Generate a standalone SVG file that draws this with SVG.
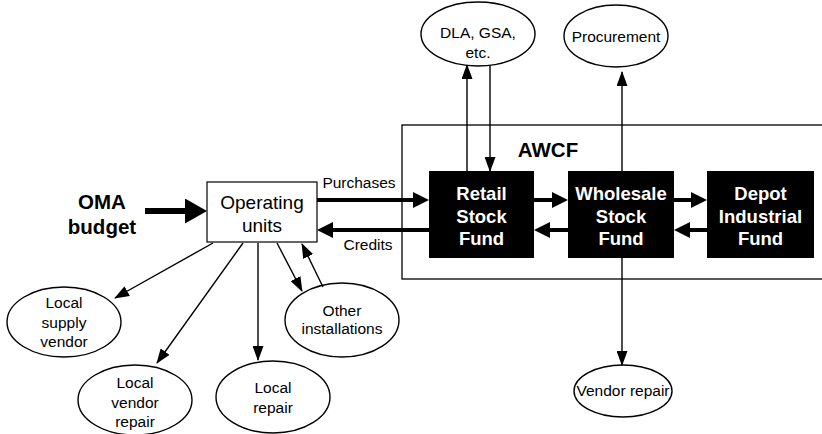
<svg xmlns="http://www.w3.org/2000/svg" width="822" height="434" viewBox="0 0 822 434">
<defs>
<style>
text{font-family:"Liberation Sans",Arial,sans-serif;fill:#000;text-anchor:middle}
.lbl{font-size:15.5px}
.bw{font-size:18.5px;font-weight:bold;fill:#fff}
.big{font-size:20.5px;font-weight:bold}
.ell{fill:#fff;stroke:#000;stroke-width:1.4}
.blk{fill:#000}
.thin{stroke:#000;stroke-width:1.4;fill:none;marker-end:url(#ah)}
.thick{stroke:#000;stroke-width:4;fill:none;marker-end:url(#ahT)}
</style>
<marker id="ah" markerUnits="userSpaceOnUse" markerWidth="15" markerHeight="11" refX="14" refY="5.5" orient="auto">
<path d="M0,0 L15,5.5 L0,11 z" fill="#000"/>
</marker>
<marker id="ahT" markerUnits="userSpaceOnUse" markerWidth="16" markerHeight="16" refX="3" refY="8" orient="auto">
<path d="M0,0 L16,8 L0,16 z" fill="#000"/>
</marker>
<marker id="ahB" markerUnits="userSpaceOnUse" markerWidth="22" markerHeight="25" refX="3" refY="12.5" orient="auto">
<path d="M0,0 L22,12.5 L0,25 z" fill="#000"/>
</marker>
</defs>
<rect width="822" height="434" fill="#fff"/>

<g id="awcf">
<rect x="402" y="125" width="430" height="154" fill="none" stroke="#000" stroke-width="1.3"/>
<text class="big" x="548" y="157" font-size="20px">AWCF</text>
</g>

<g id="oma">
<text class="big" x="102" y="209">OMA</text>
<text class="big" x="102" y="234">budget</text>
</g>

<g id="operating-units">
<rect x="207" y="182" width="110" height="60" fill="#fff" stroke="#000" stroke-width="1.2"/>
<text x="262" y="209" font-size="19px">Operating</text>
<text x="262" y="232" font-size="19px">units</text>
</g>

<g id="retail">
<rect class="blk" x="429" y="171" width="105" height="87"/>
<text class="bw" x="481.5" y="200">Retail</text>
<text class="bw" x="481.5" y="223">Stock</text>
<text class="bw" x="481.5" y="245">Fund</text>
</g>

<g id="wholesale">
<rect class="blk" x="568" y="171" width="106" height="87"/>
<text class="bw" x="621" y="200">Wholesale</text>
<text class="bw" x="621" y="223">Stock</text>
<text class="bw" x="621" y="245">Fund</text>
</g>

<g id="depot">
<rect class="blk" x="707" y="171" width="107" height="87"/>
<text class="bw" x="760.5" y="200">Depot</text>
<text class="bw" x="760.5" y="223">Industrial</text>
<text class="bw" x="760.5" y="245">Fund</text>
</g>

<g id="dla">
<ellipse class="ell" cx="478" cy="34" rx="57" ry="32"/>
<text class="lbl" x="478" y="38">DLA, GSA,</text>
<text class="lbl" x="478" y="58">etc.</text>
</g>

<g id="procurement">
<ellipse class="ell" cx="616" cy="36" rx="52" ry="31"/>
<text class="lbl" x="616" y="42">Procurement</text>
</g>

<g id="vendor-repair">
<ellipse class="ell" cx="623" cy="391" rx="49" ry="26"/>
<text class="lbl" x="623" y="396">Vendor repair</text>
</g>

<g id="local-supply-vendor">
<ellipse class="ell" cx="64" cy="322" rx="57" ry="35"/>
<text class="lbl" x="64" y="308">Local</text>
<text class="lbl" x="64" y="328">supply</text>
<text class="lbl" x="64" y="347">vendor</text>
</g>

<g id="local-vendor-repair">
<ellipse class="ell" cx="135" cy="400" rx="57" ry="35"/>
<text class="lbl" x="135" y="388">Local</text>
<text class="lbl" x="135" y="408">vendor</text>
<text class="lbl" x="135" y="427">repair</text>
</g>

<g id="local-repair">
<ellipse class="ell" cx="273" cy="397" rx="57" ry="36"/>
<text class="lbl" x="273" y="393">Local</text>
<text class="lbl" x="273" y="413">repair</text>
</g>

<g id="other-installations">
<ellipse class="ell" cx="342" cy="320" rx="57" ry="37"/>
<text class="lbl" x="342" y="316">Other</text>
<text class="lbl" x="342" y="334">installations</text>
</g>

<g id="connectors">
<line x1="145" y1="211" x2="188" y2="211" stroke="#000" stroke-width="6" marker-end="url(#ahB)"/>
<line class="thick" x1="317" y1="200" x2="416" y2="200"/>
<line class="thick" x1="429" y1="230" x2="330" y2="230"/>
<line class="thick" x1="534" y1="200" x2="555" y2="200"/>
<line class="thick" x1="568" y1="230" x2="547" y2="230"/>
<line class="thick" x1="674" y1="200" x2="694" y2="200"/>
<line class="thick" x1="707" y1="230" x2="687" y2="230"/>
<line class="thin" x1="467" y1="171" x2="467" y2="65"/>
<line class="thin" x1="490" y1="65" x2="490" y2="171"/>
<line class="thin" x1="622" y1="171" x2="622" y2="72"/>
<line class="thin" x1="622" y1="258" x2="622" y2="365"/>
<line class="thin" x1="213" y1="243" x2="115" y2="298"/>
<line class="thin" x1="243" y1="243" x2="157" y2="363"/>
<line class="thin" x1="258" y1="243" x2="258" y2="360"/>
<line class="thin" x1="277" y1="243" x2="302" y2="291"/>
<line class="thin" x1="323" y1="287" x2="302" y2="244"/>
</g>
<text class="lbl" x="359" y="188">Purchases</text>
<text class="lbl" x="368" y="250">Credits</text>
</svg>
